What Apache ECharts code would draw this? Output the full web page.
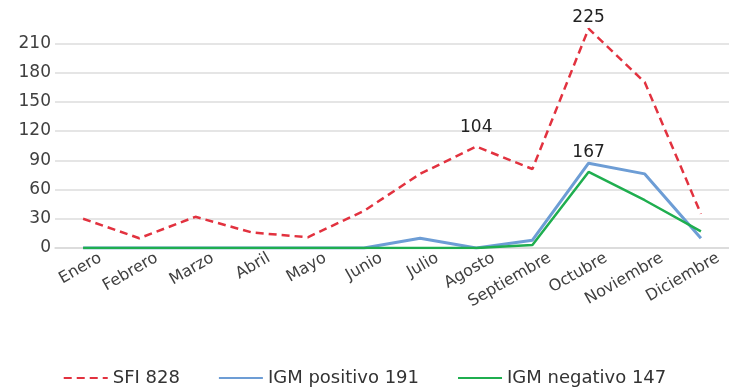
<!DOCTYPE html>
<html>
<head>
<meta charset="utf-8">
<script src="https://cdn.jsdelivr.net/npm/echarts@6/dist/echarts.min.js"></script>
<style>
  html, body { margin: 0; padding: 0; background: #fff; }
  #main { width: 729px; height: 392px; }
</style>
</head>
<body>
<div id="main"></div>
<script>
var meses = ['Enero', 'Febrero', 'Marzo', 'Abril', 'Mayo', 'Junio', 'Julio', 'Agosto', 'Septiembre', 'Octubre', 'Noviembre', 'Diciembre'];
var sfi = [30, 10, 32, 16, 11, 38, 76, 104, 81, 225, 170, 35];
var igmPositivo = [0, 0, 0, 0, 0, 0, 10, 0, 8, 87, 76, 10];
var igmNegativo = [0, 0, 0, 0, 0, 0, 0, 0, 3, 78, 49, 17];
var nombres = ['SFI 828', 'IGM positivo 191', 'IGM negativo 147'];
// puntos con etiqueta visible: [indice, distancia]
var etiquetaSfi = [[7, 10], [9, 2]];
var etiquetaPos = [[9, 2]];

function conEtiqueta(valores, etiquetas, color) {
    return valores.map(function(v, i) {
        for (var k = 0; k < etiquetas.length; k++) {
            if (etiquetas[k][0] === i) {
                return {
                    value: v, symbol: 'circle', symbolSize: 0.1,
                    itemStyle: { color: color },
                    label: { show: true, distance: etiquetas[k][1] }
                };
            }
        }
        return v;
    });
}

var myChart = echarts.init(document.getElementById('main'));
var fuente = 'DejaVu Sans';
var option = {
    animation: false,
    textStyle: { fontFamily: fuente },
    grid: { left: 55, right: -8, top: 14, bottom: 144 },
    legend: {
        top: 364,
        left: 'center',
        itemWidth: 44,
        itemHeight: 14,
        itemGap: 38,
        itemStyle: { opacity: 0 },
        textStyle: { fontFamily: fuente, fontSize: 18, color: '#333' },
        data: nombres
    },
    xAxis: {
        type: 'category',
        data: meses,
        axisLine: { lineStyle: { color: '#d9d9d9', width: 1.5 } },
        axisTick: { show: false },
        axisLabel: { rotate: 30, fontSize: 16, color: '#404040', margin: 19, padding: [0, -20, 0, 0], fontFamily: fuente, interval: 0 }
    },
    yAxis: {
        type: 'value',
        min: 0,
        max: 240,
        interval: 30,
        axisLabel: { fontSize: 17, color: '#404040', margin: 4, fontFamily: fuente, showMaxLabel: false },
        splitLine: { lineStyle: { color: '#dcdcdc', width: 1.5 }, showMaxLine: false }
    },
    series: [{
        name: nombres[0],
        type: 'line',
        data: conEtiqueta(sfi, etiquetaSfi, '#e2323f'),
        symbol: 'none',
        color: '#e2323f',
        lineStyle: { type: [8, 5], width: 2.5, color: '#e2323f' },
        label: { position: 'top', fontSize: 17, color: '#222', fontFamily: fuente },
        z: 3
    }, {
        name: nombres[1],
        type: 'line',
        data: conEtiqueta(igmPositivo, etiquetaPos, '#6d9dd5'),
        symbol: 'none',
        color: '#6d9dd5',
        lineStyle: { width: 3, color: '#6d9dd5' },
        label: { position: 'top', fontSize: 17, color: '#222', fontFamily: fuente, formatter: '167' },
        z: 2
    }, {
        name: nombres[2],
        type: 'line',
        data: igmNegativo,
        symbol: 'none',
        color: '#1fae4f',
        lineStyle: { width: 2.5, color: '#1fae4f' },
        z: 2
    }]
};
myChart.setOption(option);
</script>
</body>
</html>
